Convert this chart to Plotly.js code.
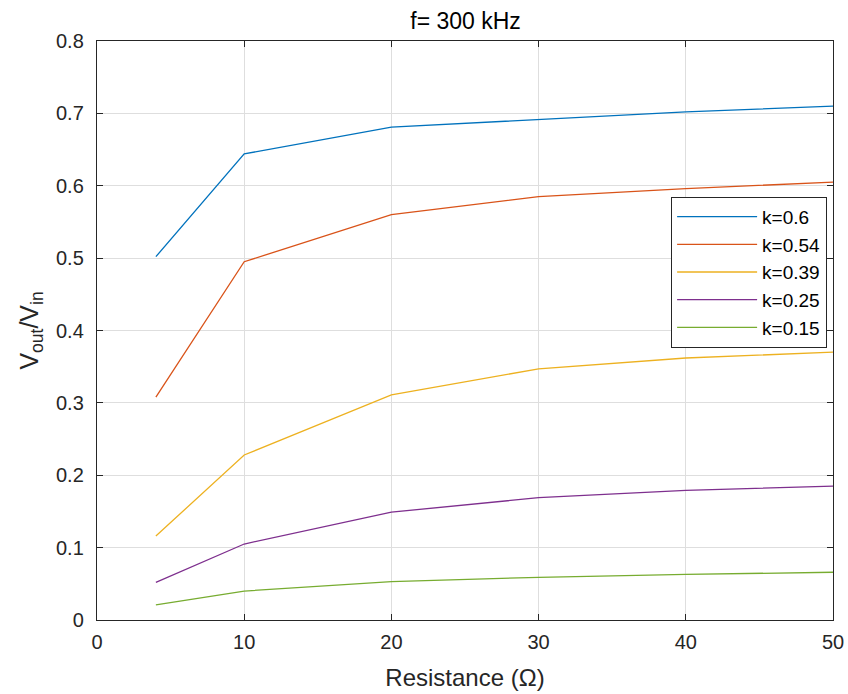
<!DOCTYPE html>
<html>
<head>
<meta charset="utf-8">
<script src="https://cdn.plot.ly/plotly-3.0.1.min.js"></script>
<style>html,body{margin:0;padding:0;background:#fff;}#chart{width:848px;height:694px;}</style>
</head>
<body>
<div id="chart"></div>
<script>
const resistance = [4, 10, 20, 30, 40, 50];
const k060 = [0.502, 0.644, 0.681, 0.692, 0.702, 0.710];
const k054 = [0.308, 0.495, 0.560, 0.585, 0.596, 0.605];
const k039 = [0.116, 0.228, 0.311, 0.347, 0.362, 0.370];
const k025 = [0.052, 0.105, 0.149, 0.169, 0.179, 0.185];
const k015 = [0.021, 0.040, 0.053, 0.059, 0.063, 0.066];
const seriesNames = ['k=0.6', 'k=0.54', 'k=0.39', 'k=0.25', 'k=0.15'];
const seriesValues = [k060, k054, k039, k025, k015];
const colors = ['#0072BD', '#D95319', '#EDB120', '#7E2F8E', '#77AC30'];

const traces = seriesValues.map((v, i) => ({
  x: resistance, y: v, type: 'scatter', mode: 'lines', name: seriesNames[i],
  line: {color: colors[i], width: 1.3}
}));

const FONT = 'Liberation Sans, Arial, sans-serif';
const axisCommon = {
  showline: true, linecolor: '#262626', linewidth: 1.2, mirror: 'ticks',
  ticks: 'inside', ticklen: 6, tickcolor: '#262626', tickwidth: 1.2,
  showgrid: true, gridcolor: '#dedede', gridwidth: 1, zeroline: false,
  tickfont: {family: FONT, size: 20, color: '#262626'}
};

const layout = {
  width: 848, height: 694,
  margin: {l: 97, r: 15, t: 41, b: 74},
  paper_bgcolor: '#fff', plot_bgcolor: '#fff',
  font: {family: FONT, color: '#262626'},
  title: {text: 'f= 300 kHz', x: 0.549, xanchor: 'center', y: 0.970, yanchor: 'middle',
          font: {size: 23, color: '#000'}},
  xaxis: Object.assign({}, axisCommon, {
    range: [0, 50], dtick: 10, tick0: 0, ticklabelstandoff: 4,
    title: {text: 'Resistance (Ω)', font: {size: 24, color: '#262626'}, standoff: 17}
  }),
  yaxis: Object.assign({}, axisCommon, {
    range: [0, 0.8], dtick: 0.1, tick0: 0, ticklabelstandoff: 8,
    title: {text: 'V<sub>out</sub>/V<sub>in</sub>', font: {size: 25, color: '#262626'}, standoff: 10}
  }),
  showlegend: true,
  legend: {
    x: 0.992, xanchor: 'right', y: 0.731, yanchor: 'top',
    bgcolor: '#fff', bordercolor: '#262626', borderwidth: 1,
    font: {size: 19, color: '#000'}, itemwidth: 80, tracegroupgap: 0
  }
};

Plotly.newPlot('chart', traces, layout, {displayModeBar: false, staticPlot: true});
</script>
</body>
</html>
